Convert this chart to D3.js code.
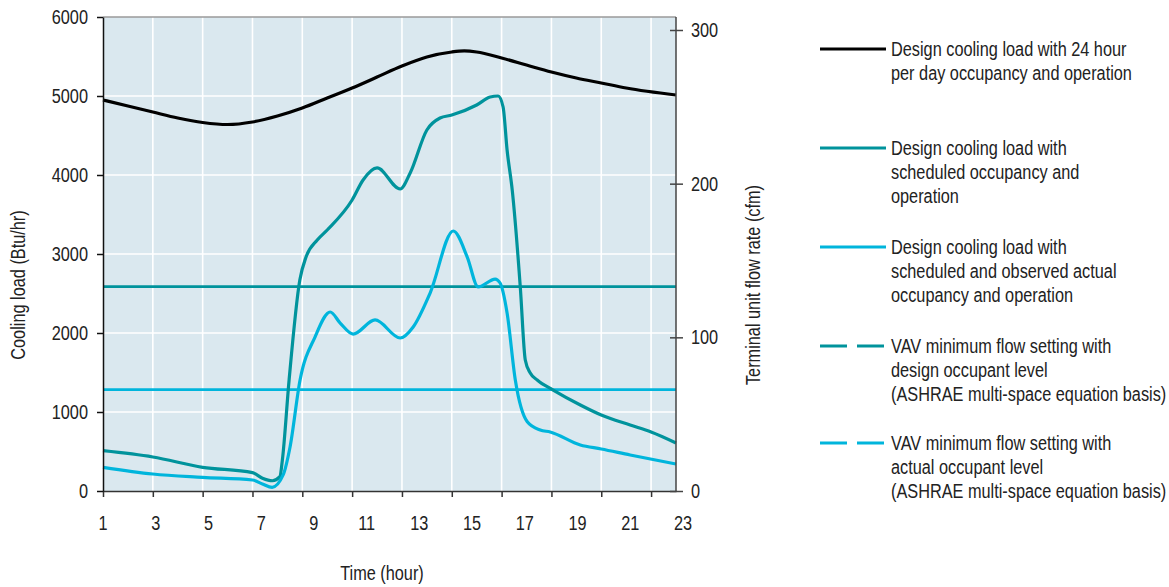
<!DOCTYPE html>
<html>
<head>
<meta charset="utf-8">
<script src="https://cdn.jsdelivr.net/npm/d3@7"></script>
<style>
  body { margin: 0; background: #fff; }
  text { font-family: "Liberation Sans", Arial, sans-serif; fill: #222; }
</style>
</head>
<body>
<script>
// data
const hourTicks = [1, 3, 5, 7, 9, 11, 13, 15, 17, 19, 21, 23];
const loadTicks = [0, 1000, 2000, 3000, 4000, 5000, 6000];
const flowTicks = [0, 100, 200, 300];

// 24 hour occupancy (Btu/hr)
const fullDayHours = [1, 2, 3, 4, 5, 6, 7, 8, 9, 10, 11, 12, 13, 14, 15, 15.5, 16, 17, 18, 19, 20, 21, 22, 24];
const fullDayLoad = [4950, 4873, 4797, 4722, 4665, 4639, 4671, 4747, 4848, 4975, 5101, 5240, 5380, 5494, 5557, 5570, 5557, 5481, 5392, 5304, 5228, 5165, 5101, 5013];

// scheduled occupancy (Btu/hr)
const scheduledHours = [1, 3, 5, 7, 7.4, 7.8, 8.1, 8.2, 8.47, 8.9, 9.15, 9.6, 10, 11, 11.44, 12, 12.93, 13.33, 14, 14.53, 15, 16, 16.54, 16.86, 17.06, 17.22, 17.43, 17.75, 17.95, 18.15, 18.43, 19.07, 20.16, 21, 22.16, 23, 24];
const scheduledLoad = [510, 430, 300, 232, 162, 130, 181, 392, 1405, 2671, 2962, 3177, 3304, 3684, 3937, 4089, 3823, 4025, 4570, 4721, 4759, 4886, 4987, 5000, 4861, 4316, 3800, 2582, 1658, 1494, 1405, 1278, 1089, 962, 835, 747, 608];

// scheduled + observed actual occupancy (Btu/hr)
const actualHours = [1, 3, 5, 7, 7.4, 7.79, 8.23, 8.51, 8.91, 9.51, 10.12, 10.52, 11.04, 11.92, 12.93, 13.45, 14.13, 15.06, 15.62, 16.06, 16.74, 16.94, 17.22, 17.55, 18.03, 18.55, 18.95, 20.16, 21, 22.16, 24];
const actualLoad = [300, 215, 173, 139, 89, 47, 203, 561, 1405, 1949, 2266, 2126, 1987, 2165, 1937, 2076, 2506, 3291, 2962, 2582, 2683, 2633, 2253, 1405, 877, 772, 747, 582, 532, 456, 342];

// VAV minimum flow settings (cfm)
const vavDesignFlow = 133;
const vavActualFlow = 66;

const legendLabels = [
    ["Design cooling load with 24 hour", "per day occupancy and operation"],
    ["Design cooling load with", "scheduled occupancy and", "operation"],
    ["Design cooling load with", "scheduled and observed actual", "occupancy and operation"],
    ["VAV minimum flow setting with", "design occupant level", "(ASHRAE multi-space equation basis)"],
    ["VAV minimum flow setting with", "actual occupant level", "(ASHRAE multi-space equation basis)"]
];

var w = 1169,
    h = 587;
var black = "#000",
    teal = "#00939c",
    cyan = "#00b5dc";
var fontSize = "20px",
    squeeze = 0.815; // no condensed font installed, so narrow Liberation Sans by hand

var svg = d3.select("body").append("svg")
    .attr("width", w)
    .attr("height", h);

// move x/y into a transform and squeeze the glyphs horizontally
const narrow = (sel) => sel.each(function() {
    var t = d3.select(this);
    var tx = +t.attr("x") || 0,
        ty = +t.attr("y") || 0;
    var prev = t.attr("transform") || "";
    t.attr("x", null).attr("y", null)
        .attr("transform", prev + " translate(" + tx + "," + ty + ") scale(" + squeeze + ",1)");
});

var x = d3.scaleLinear().domain([1, 24]).range([103, 676]);
var yLoad = d3.scaleLinear().domain([0, 6000]).range([491, 17]);
var yFlow = d3.scaleLinear().domain([0, 300]).range([491, 30]);
// tick labels in the original are spaced a bit wider than the ticks
var xLabel = d3.scalePoint().domain(hourTicks).range([103, 683]);

const [x0, x1] = x.range();
const [yBottom, yTop] = yLoad.range();

// plot background
svg.append("rect")
    .attr("x", x0).attr("y", yTop)
    .attr("width", x1 - x0).attr("height", yBottom - yTop)
    .style("fill", "#dae8ef");

// grid
svg.append("g").selectAll("line")
    .data(hourTicks.slice(1))
    .enter().append("line")
    .attr("x1", d => x(d)).attr("x2", d => x(d))
    .attr("y1", yTop).attr("y2", yBottom)
    .style("stroke", "#fff").style("stroke-width", 1.6);

svg.append("g").selectAll("line")
    .data(loadTicks.slice(1, -1))
    .enter().append("line")
    .attr("x1", x0).attr("x2", x1)
    .attr("y1", d => yLoad(d)).attr("y2", d => yLoad(d))
    .style("stroke", "#fff").style("stroke-width", 1.6);

// top border
svg.append("line")
    .attr("x1", x0).attr("x2", x1)
    .attr("y1", yTop).attr("y2", yTop)
    .style("stroke", "#9a9a9a").style("stroke-width", 1.5);

// VAV minimum flow lines, on the right axis
[[vavDesignFlow, teal], [vavActualFlow, cyan]].forEach(([v, c]) => {
    svg.append("line")
        .attr("x1", x0).attr("x2", x1)
        .attr("y1", yFlow(v)).attr("y2", yFlow(v))
        .style("stroke", c).style("stroke-width", 2.6);
});

// load curves
const line = d3.line()
    .x(d => x(d[0]))
    .y(d => yLoad(d[1]))
    .curve(d3.curveMonotoneX);

const series = [
    [fullDayHours, fullDayLoad, black],
    [scheduledHours, scheduledLoad, teal],
    [actualHours, actualLoad, cyan]
];

series.forEach(([hs, vs, c]) => {
    svg.append("path")
        .datum(hs.map((hr, i) => [hr, vs[i]]))
        .attr("d", line)
        .style("fill", "none")
        .style("stroke", c)
        .style("stroke-width", 3.2)
        .style("stroke-linejoin", "round");
});

// axes
const styleAxis = (g, colour) => {
    g.selectAll("path, line").style("stroke", colour).style("stroke-width", 1.5);
    g.selectAll("text").style("font-size", fontSize).style("fill", "#222")
        .style("font-family", '"Liberation Sans", Arial, sans-serif')
        .call(narrow);
};

var bottomAxis = svg.append("g")
    .attr("transform", "translate(0," + yBottom + ")")
    .call(d3.axisBottom(x).tickValues(hourTicks).tickFormat("").tickSizeInner(6).tickSizeOuter(0));
styleAxis(bottomAxis, "#333");

svg.append("g").selectAll("text")
    .data(hourTicks)
    .enter().append("text")
    .attr("x", d => xLabel(d))
    .attr("y", 530)
    .attr("text-anchor", "middle")
    .style("font-size", fontSize)
    .text(d => d)
    .call(narrow);

var leftAxis = svg.append("g")
    .attr("transform", "translate(" + x0 + ",0)")
    .call(d3.axisLeft(yLoad).tickValues(loadTicks).tickFormat(d => d).tickSize(6).tickPadding(9).tickSizeOuter(0));
styleAxis(leftAxis, "#111");

var rightAxis = svg.append("g")
    .attr("transform", "translate(" + x1 + ",0)")
    .call(d3.axisRight(yFlow).tickValues(flowTicks).tickFormat(d => d).tickSize(7).tickPadding(8).tickSizeOuter(0));
rightAxis.select(".domain").remove();
rightAxis.selectAll(".tick line").attr("x1", -6);
rightAxis.append("line")
    .attr("y1", yTop).attr("y2", yBottom);
styleAxis(rightAxis, "#444");

// axis titles
svg.append("text")
    .attr("transform", "translate(25,285) rotate(-90)")
    .attr("text-anchor", "middle")
    .style("font-size", fontSize)
    .text("Cooling load (Btu/hr)")
    .call(narrow);

svg.append("text")
    .attr("transform", "translate(760,285) rotate(-90)")
    .attr("text-anchor", "middle")
    .style("font-size", fontSize)
    .text("Terminal unit flow rate (cfm)")
    .call(narrow);

svg.append("text")
    .attr("x", 382)
    .attr("y", 580)
    .attr("text-anchor", "middle")
    .style("font-size", fontSize)
    .text("Time (hour)")
    .call(narrow);

// legend
const legendY = [49, 148, 247, 346, 443];
const legendColours = [black, teal, cyan, teal, cyan];
const legendDash = [null, null, null, "27,10", "27,10"];

var legend = svg.append("g").selectAll("g")
    .data(legendLabels)
    .enter().append("g")
    .attr("transform", (d, i) => "translate(0," + legendY[i] + ")");

legend.append("line")
    .attr("x1", 820).attr("x2", 886)
    .style("stroke", (d, i) => legendColours[i])
    .style("stroke-width", 3)
    .style("stroke-dasharray", (d, i) => legendDash[i]);

legend.selectAll("text")
    .data(d => d)
    .enter().append("text")
    .attr("x", 891)
    .attr("y", (d, i) => 7 + i * 23.8)
    .style("font-size", fontSize)
    .text(d => d)
    .call(narrow);
</script>
</body>
</html>
